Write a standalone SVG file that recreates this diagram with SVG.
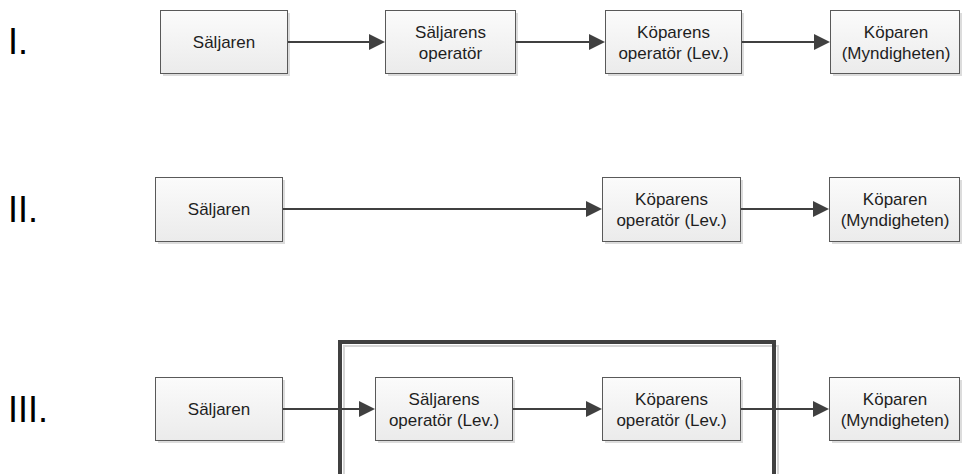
<svg xmlns="http://www.w3.org/2000/svg" width="963" height="474" viewBox="0 0 963 474">
  <style>
    .box { fill: url(#boxFill); stroke: #595959; stroke-width: 1; }
    .shadow { fill: #dcdcdc; }
    .lbl { font-family: "Liberation Sans", Arial, sans-serif; font-size: 17px; fill: #1e1e1e; text-anchor: middle; }
    .num { font-family: "Liberation Sans", Arial, sans-serif; font-size: 36px; fill: #000; }
    .edge { stroke: #404040; stroke-width: 2; fill: none; marker-end: url(#arrow); }
    .frame { fill: none; stroke: #404040; stroke-width: 4; }
    .frameShadow { fill: none; stroke: #d6d6d6; stroke-width: 2; }
  </style>
  <defs>
    <linearGradient id="boxFill" x1="0" y1="0" x2="0" y2="1">
      <stop offset="0" stop-color="#fbfbfb"/>
      <stop offset="1" stop-color="#ebebeb"/>
    </linearGradient>
    <marker id="arrow" markerUnits="userSpaceOnUse" markerWidth="16" markerHeight="16" refX="8" refY="8" orient="auto">
      <path d="M0,0 L16,8 L0,16 Z" fill="#404040"/>
    </marker>
  </defs>

  <rect width="963" height="474" fill="#ffffff"/>

  <!-- row numbers -->
  <g id="labels">
    <text class="num" x="8" y="54">I.</text>
    <text class="num" x="8" y="222">II.</text>
    <text class="num" x="8" y="422">III.</text>
  </g>

  <!-- enclosing frame of case III -->
  <g id="frame">
    <rect class="frameShadow" x="344" y="346" width="434" height="200"/>
    <rect class="frame" x="340" y="342" width="434" height="200"/>
  </g>

  <!-- row I -->
  <g id="r1-saljaren">
    <rect class="shadow" x="163" y="13" width="127" height="63"/>
    <rect class="box" x="160.5" y="10.5" width="127" height="63"/>
    <text class="lbl" x="224" y="47.5">Säljaren</text>
  </g>
  <g id="r1-saljarens-operator">
    <rect class="shadow" x="388" y="13" width="130" height="63"/>
    <rect class="box" x="385.5" y="10.5" width="130" height="63"/>
    <text class="lbl" x="450.5" y="37.5">Säljarens</text>
    <text class="lbl" x="450.5" y="58.5">operatör</text>
  </g>
  <g id="r1-koparens-operator">
    <rect class="shadow" x="608" y="13" width="136" height="63"/>
    <rect class="box" x="605.5" y="10.5" width="136" height="63"/>
    <text class="lbl" x="673.5" y="37.5">Köparens</text>
    <text class="lbl" x="673.5" y="58.5">operatör (Lev.)</text>
  </g>
  <g id="r1-koparen">
    <rect class="shadow" x="833" y="13" width="129" height="63"/>
    <rect class="box" x="830.5" y="10.5" width="129" height="63"/>
    <text class="lbl" x="896" y="37.5">Köparen</text>
    <text class="lbl" x="896" y="58.5">(Myndigheten)</text>
  </g>

  <!-- row II -->
  <g id="r2-saljaren">
    <rect class="shadow" x="158" y="180" width="127" height="64"/>
    <rect class="box" x="155.5" y="177.5" width="127" height="64"/>
    <text class="lbl" x="219" y="215">Säljaren</text>
  </g>
  <g id="r2-koparens-operator">
    <rect class="shadow" x="605" y="180" width="138" height="64"/>
    <rect class="box" x="602.5" y="177.5" width="138" height="64"/>
    <text class="lbl" x="671.5" y="205">Köparens</text>
    <text class="lbl" x="671.5" y="226">operatör (Lev.)</text>
  </g>
  <g id="r2-koparen">
    <rect class="shadow" x="832" y="180" width="130" height="64"/>
    <rect class="box" x="829.5" y="177.5" width="130" height="64"/>
    <text class="lbl" x="895" y="205">Köparen</text>
    <text class="lbl" x="895" y="226">(Myndigheten)</text>
  </g>

  <!-- row III -->
  <g id="r3-saljaren">
    <rect class="shadow" x="158" y="380" width="127" height="63"/>
    <rect class="box" x="155.5" y="377.5" width="127" height="63"/>
    <text class="lbl" x="219" y="414.5">Säljaren</text>
  </g>
  <g id="r3-saljarens-operator">
    <rect class="shadow" x="378" y="380" width="137" height="63"/>
    <rect class="box" x="375.5" y="377.5" width="137" height="63"/>
    <text class="lbl" x="444" y="404.5">Säljarens</text>
    <text class="lbl" x="444" y="425.5">operatör (Lev.)</text>
  </g>
  <g id="r3-koparens-operator">
    <rect class="shadow" x="605" y="380" width="138" height="63"/>
    <rect class="box" x="602.5" y="377.5" width="138" height="63"/>
    <text class="lbl" x="671.5" y="404.5">Köparens</text>
    <text class="lbl" x="671.5" y="425.5">operatör (Lev.)</text>
  </g>
  <g id="r3-koparen">
    <rect class="shadow" x="832" y="380" width="130" height="63"/>
    <rect class="box" x="829.5" y="377.5" width="130" height="63"/>
    <text class="lbl" x="895" y="404.5">Köparen</text>
    <text class="lbl" x="895" y="425.5">(Myndigheten)</text>
  </g>

  <!-- connectors -->
  <g id="connectors">
    <line class="edge" x1="288" y1="42" x2="377" y2="42"/>
    <line class="edge" x1="516" y1="42" x2="597" y2="42"/>
    <line class="edge" x1="742" y1="42" x2="822" y2="42"/>

    <line class="edge" x1="283" y1="209" x2="594" y2="209"/>
    <line class="edge" x1="741" y1="209" x2="821" y2="209"/>

    <line class="edge" x1="283" y1="409" x2="367" y2="409"/>
    <line class="edge" x1="513" y1="409" x2="594" y2="409"/>
    <line class="edge" x1="741" y1="409" x2="821" y2="409"/>
  </g>
</svg>
